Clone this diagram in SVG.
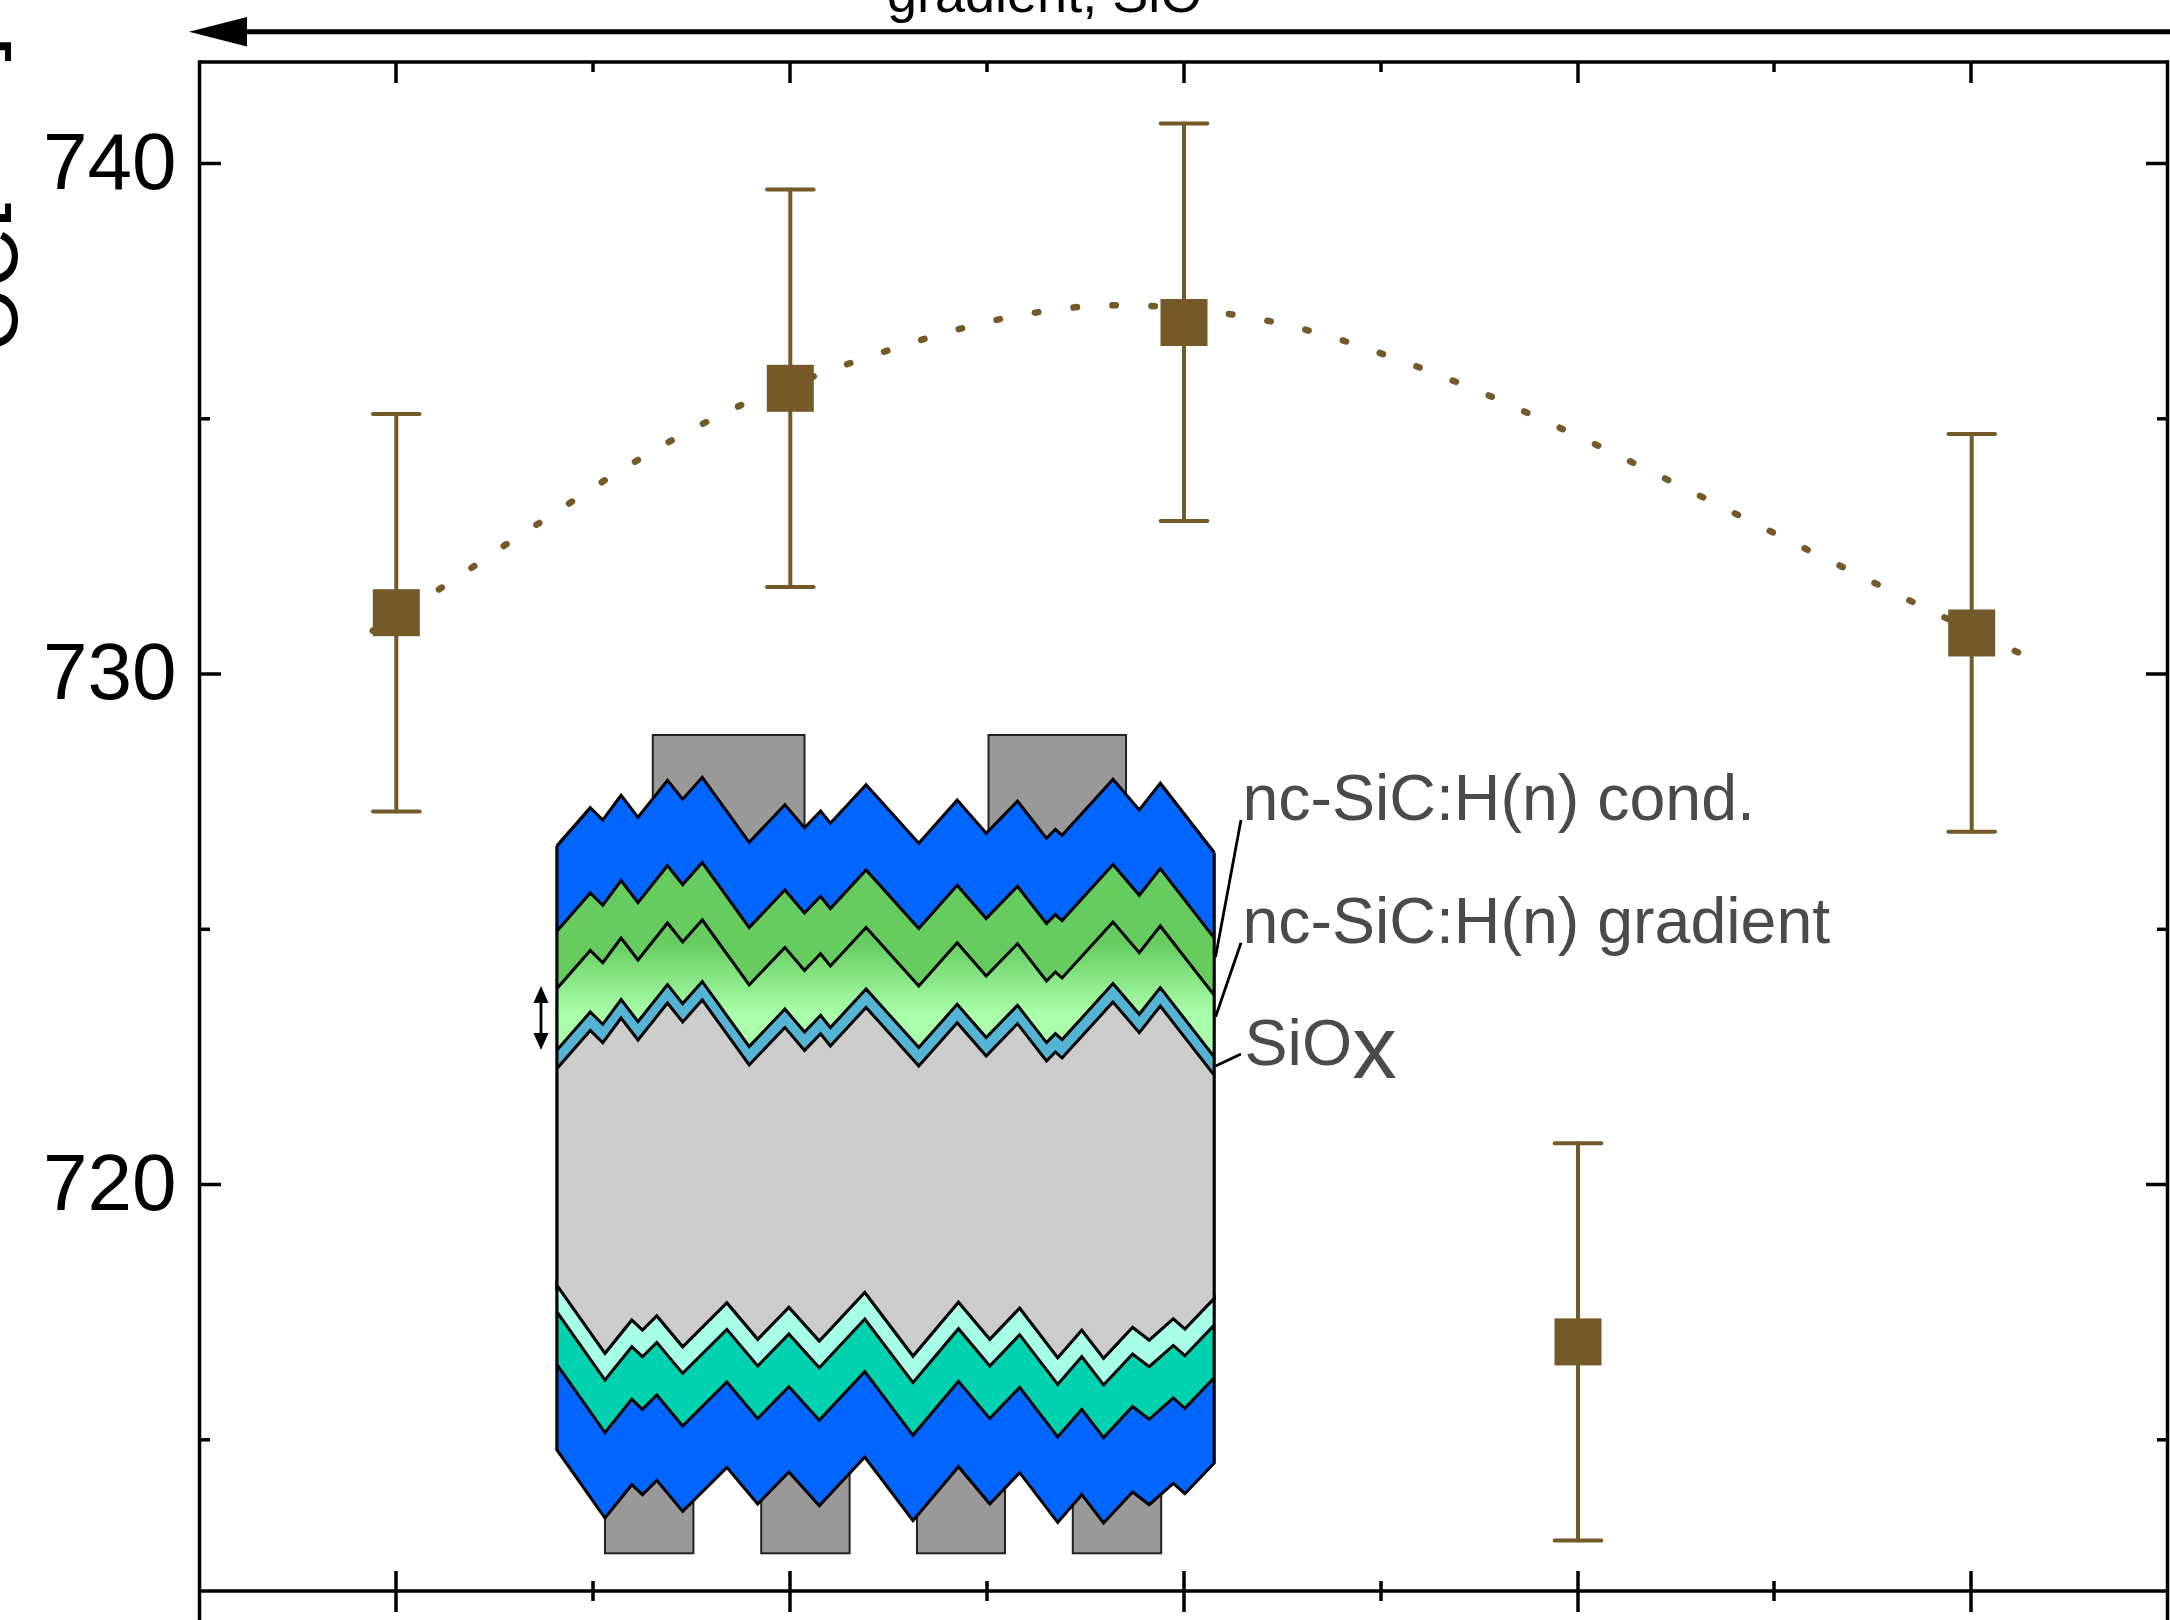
<svg xmlns="http://www.w3.org/2000/svg" xmlns:xlink="http://www.w3.org/1999/xlink" width="2170" height="1620" viewBox="0 0 2170 1620">
<defs>
<style>
.axis{stroke:#000;stroke-width:3.5;fill:none}
.tick{stroke:#000;stroke-width:3.5}
.lbl{font-family:"Liberation Sans",Arial,sans-serif;font-size:80px;fill:#000}
.ann{font-family:"Liberation Sans",Arial,sans-serif;font-size:64.5px;fill:#4a4a4a}
.eb{stroke:#745a28;stroke-width:4;stroke-linecap:round;fill:none}
.sq{fill:#745a28}
.lay{stroke:#000;stroke-width:3;stroke-linejoin:miter}
.ct{fill:#999;stroke:#222;stroke-width:2}
.ln{stroke:#000;stroke-width:2.8;fill:none}
</style>
<linearGradient id="grad" gradientUnits="userSpaceOnUse" x1="0" y1="800" x2="0" y2="872">
<stop offset="0" stop-color="#66cc60"/>
<stop offset="1" stop-color="#aaffaa"/>
</linearGradient>
<path id="pTop" d="M556.8,846 L590.3,807.7 L602.8,820 L621.1,795.3 L638,817.3 L667.5,780.3 L682.7,799.3 L702.3,777.3 L749.2,842.3 L784.9,804.7 L804.5,827.7 L820.6,811 L830.4,823.3 L866.1,784.7 L918.8,843.3 L957.2,800 L986.2,833.3 L1017.5,801 L1046.5,838.3 L1055.4,829.3 L1062.1,835.3 L1113,779.3 L1139.3,810 L1160.3,783.3 L1214.3,852.7 L1214.3,1200 L556.8,1200 Z"/>
<path id="pBot" d="M556.8,1285 L605,1353.3 L631.8,1320 L642.5,1330 L656.8,1315.7 L682.7,1346.7 L726.9,1302.7 L757.7,1339.3 L788.9,1307.3 L819.3,1341 L864.8,1292.3 L913,1356 L958.5,1302 L989.8,1339.3 L1019.7,1308 L1057.7,1357.7 L1081.8,1330 L1103.6,1358.3 L1132.6,1327.3 L1149.2,1340 L1173.3,1318.7 L1184.9,1329 L1214.3,1298.3 L1214.3,1463 L1184.9,1493.7 L1173.3,1483.4 L1149.2,1504.7 L1132.6,1492 L1103.6,1523 L1081.8,1494.7 L1057.7,1522.4 L1019.7,1472.7 L989.8,1504 L958.5,1466.7 L913,1520.7 L864.8,1457 L819.3,1505.7 L788.9,1472 L757.7,1504 L726.9,1467.4 L682.7,1511.4 L656.8,1480.4 L642.5,1494.7 L631.8,1484.7 L605,1518 L556.8,1449.7 Z"/>
<clipPath id="clipBot"><use xlink:href="#pBot" href="#pBot"/></clipPath>
<clipPath id="clipTop"><rect x="556.8" y="700" width="657.5" height="760"/></clipPath>
</defs>
<rect width="2170" height="1620" fill="#fff"/>

<g id="top-arrow">
<line x1="240" y1="31.7" x2="2170" y2="31.7" stroke="#000" stroke-width="5"/>
<polygon points="189,31.7 247,17 247,46.4" fill="#000"/>
<text x="887" y="12" style="font-family:'Liberation Sans',Arial,sans-serif;font-size:54px;fill:#000">gradient, SiO</text>
</g>

<g id="y-title">
<text transform="rotate(-90)" x="-35.6" y="-8.7" text-anchor="end" style="font-family:'Liberation Sans',Arial,sans-serif;font-size:94px;fill:#000">V<tspan font-size="82" dy="26">OC</tspan><tspan dy="-26">[mV]</tspan></text>
</g>

<g id="axes">
<line class="axis" x1="199.5" y1="62" x2="2167.5" y2="62"/>
<line class="axis" x1="199.5" y1="60.3" x2="199.5" y2="1620"/>
<line class="axis" x1="2167.5" y1="60.3" x2="2167.5" y2="1620"/>
<line class="axis" x1="199.5" y1="1591" x2="2167.5" y2="1591"/>
<g class="tick">
<line x1="396" y1="62" x2="396" y2="83"/><line x1="790" y1="62" x2="790" y2="83"/><line x1="1184" y1="62" x2="1184" y2="83"/><line x1="1578" y1="62" x2="1578" y2="83"/><line x1="1971" y1="62" x2="1971" y2="83"/>
<line x1="593" y1="62" x2="593" y2="72"/><line x1="987" y1="62" x2="987" y2="72"/><line x1="1381" y1="62" x2="1381" y2="72"/><line x1="1774" y1="62" x2="1774" y2="72"/>
<line x1="396" y1="1571" x2="396" y2="1612"/><line x1="790" y1="1571" x2="790" y2="1612"/><line x1="1184" y1="1571" x2="1184" y2="1612"/><line x1="1578" y1="1571" x2="1578" y2="1612"/><line x1="1971" y1="1571" x2="1971" y2="1612"/>
<line x1="593" y1="1581" x2="593" y2="1601"/><line x1="987" y1="1581" x2="987" y2="1601"/><line x1="1381" y1="1581" x2="1381" y2="1601"/><line x1="1774" y1="1581" x2="1774" y2="1601"/>
<line x1="199.5" y1="163.5" x2="221" y2="163.5"/><line x1="199.5" y1="674" x2="221" y2="674"/><line x1="199.5" y1="1184.5" x2="221" y2="1184.5"/>
<line x1="199.5" y1="418.8" x2="210" y2="418.8"/><line x1="199.5" y1="929.3" x2="210" y2="929.3"/><line x1="199.5" y1="1439.8" x2="210" y2="1439.8"/>
<line x1="2167.5" y1="163.5" x2="2146" y2="163.5"/><line x1="2167.5" y1="674" x2="2146" y2="674"/><line x1="2167.5" y1="1184.5" x2="2146" y2="1184.5"/>
<line x1="2167.5" y1="418.8" x2="2157" y2="418.8"/><line x1="2167.5" y1="929.3" x2="2157" y2="929.3"/><line x1="2167.5" y1="1439.8" x2="2157" y2="1439.8"/>
</g>
<text class="lbl" x="176.5" y="188.5" text-anchor="end">740</text>
<text class="lbl" x="176.5" y="699" text-anchor="end">730</text>
<text class="lbl" x="176.5" y="1209.5" text-anchor="end">720</text>
</g>

<g id="fit-curve">
<path d="M372.7,630.7 L442.3,587.3 L474.3,566 L507.7,543.3 L540.3,522.3 L573.3,500.7 L606.7,479 L640.7,458.3 L675.3,438.3 L710,420 L746,402.7 L783,388 L820,374 L855.9,361 L894.4,348.3 L931.6,336.7 L970.2,326 L1008,317.3 L1046.6,310.7 L1086,306 L1125.3,305 L1164,306.5 L1203,310 L1242.5,316 L1280.5,323.3 L1319.3,333.3 L1356.6,344.7 L1393.2,357.7 L1429.7,371.3 L1466.3,386 L1503.3,401.7 L1537.7,417.7 L1574,434.3 L1609.3,451 L1644.3,468.3 L1679.7,485.7 L1715,503.3 L1750,521 L1785.3,538.7 L1820.7,556.3 L1855.7,573.3 L1891,591.3 L1926.3,608.7 L1999,643.3 L2037,661.5" fill="none" stroke="#745a28" stroke-width="6.5" stroke-linecap="round" stroke-dasharray="3.5 35.5"/>
</g>

<g id="device">
<g id="top-contacts">
<rect class="ct" x="652.8" y="735" width="151.7" height="130"/>
<rect class="ct" x="988.5" y="735" width="137.5" height="130"/>
</g>
<g id="bottom-contacts">
<rect class="ct" x="605" y="1430" width="88.4" height="123.3"/>
<rect class="ct" x="761.2" y="1430" width="88.4" height="123.3"/>
<rect class="ct" x="917" y="1430" width="88" height="123.3"/>
<rect class="ct" x="1072.8" y="1430" width="88.4" height="123.3"/>
</g>
<g id="top-layers" class="lay" clip-path="url(#clipTop)">
<use xlink:href="#pTop" href="#pTop" fill="#0066ff"/>
<use xlink:href="#pTop" href="#pTop" fill="#66cc60" transform="translate(0,85.3)"/>
<use xlink:href="#pTop" href="#pTop" fill="url(#grad)" transform="translate(0,142.7)"/>
<use xlink:href="#pTop" href="#pTop" fill="#55b4d4" transform="translate(0,204.3)"/>
<use xlink:href="#pTop" href="#pTop" fill="#cccccc" transform="translate(0,222.7)"/>
</g>
<path class="lay" fill="none" d="M556.8,846 L590.3,807.7 M556.8,846 V1290 M1214.3,852.7 V1300 M1160.3,783.3 L1214.3,852.7"/>
<g id="bottom-layers">
<g clip-path="url(#clipBot)" class="lay">
<use xlink:href="#pBot" href="#pBot" fill="#a8ffe8"/>
<use xlink:href="#pBot" href="#pBot" fill="#00d2b0" transform="translate(0,26.7)"/>
<use xlink:href="#pBot" href="#pBot" fill="#0066ff" transform="translate(0,79.3)"/>
</g>
<use xlink:href="#pBot" href="#pBot" fill="none" class="lay"/>
</g>
<g id="thickness-arrow">
<line x1="541" y1="998" x2="541" y2="1038" stroke="#000" stroke-width="2.8"/>
<polygon points="541,986 533.5,1003 548.5,1003" fill="#000"/>
<polygon points="541,1050 533.5,1033 548.5,1033" fill="#000"/>
</g>
</g>

<g id="connectors">
<line class="ln" x1="1241" y1="820" x2="1215.5" y2="957"/>
<line class="ln" x1="1241" y1="942.7" x2="1215.6" y2="1016.7"/>
<line class="ln" x1="1241" y1="1054" x2="1215.6" y2="1066"/>
</g>

<g id="label-cond"><text class="ann" x="1242.4" y="820">nc-SiC:H(n) cond.</text></g>
<g id="label-gradient"><text class="ann" x="1242.4" y="942.7">nc-SiC:H(n) gradient</text></g>
<g id="label-siox"><text class="ann" x="1244.6" y="1065">SiO<tspan font-size="89" dy="13.3">x</tspan></text></g>

<g id="point-1">
<line class="eb" x1="396.3" y1="414" x2="396.3" y2="811.5"/>
<line class="eb" x1="373" y1="414" x2="419.6" y2="414"/>
<line class="eb" x1="373" y1="811.5" x2="419.6" y2="811.5"/>
<rect class="sq" x="372.8" y="589.2" width="47" height="47"/>
</g>
<g id="point-2">
<line class="eb" x1="790.3" y1="189.5" x2="790.3" y2="587"/>
<line class="eb" x1="767" y1="189.5" x2="813.6" y2="189.5"/>
<line class="eb" x1="767" y1="587" x2="813.6" y2="587"/>
<rect class="sq" x="766.8" y="364.8" width="47" height="47"/>
</g>
<g id="point-3">
<line class="eb" x1="1184" y1="123.5" x2="1184" y2="521"/>
<line class="eb" x1="1160.7" y1="123.5" x2="1207.3" y2="123.5"/>
<line class="eb" x1="1160.7" y1="521" x2="1207.3" y2="521"/>
<rect class="sq" x="1160.5" y="299" width="47" height="47"/>
</g>
<g id="point-4">
<line class="eb" x1="1578" y1="1143.2" x2="1578" y2="1540.6"/>
<line class="eb" x1="1554.7" y1="1143.2" x2="1601.3" y2="1143.2"/>
<line class="eb" x1="1554.7" y1="1540.6" x2="1601.3" y2="1540.6"/>
<rect class="sq" x="1554.5" y="1318.4" width="47" height="47"/>
</g>
<g id="point-5">
<line class="eb" x1="1971.7" y1="434" x2="1971.7" y2="831.7"/>
<line class="eb" x1="1948.4" y1="434" x2="1995" y2="434"/>
<line class="eb" x1="1948.4" y1="831.7" x2="1995" y2="831.7"/>
<rect class="sq" x="1948.2" y="609.5" width="47" height="47"/>
</g>
</svg>
